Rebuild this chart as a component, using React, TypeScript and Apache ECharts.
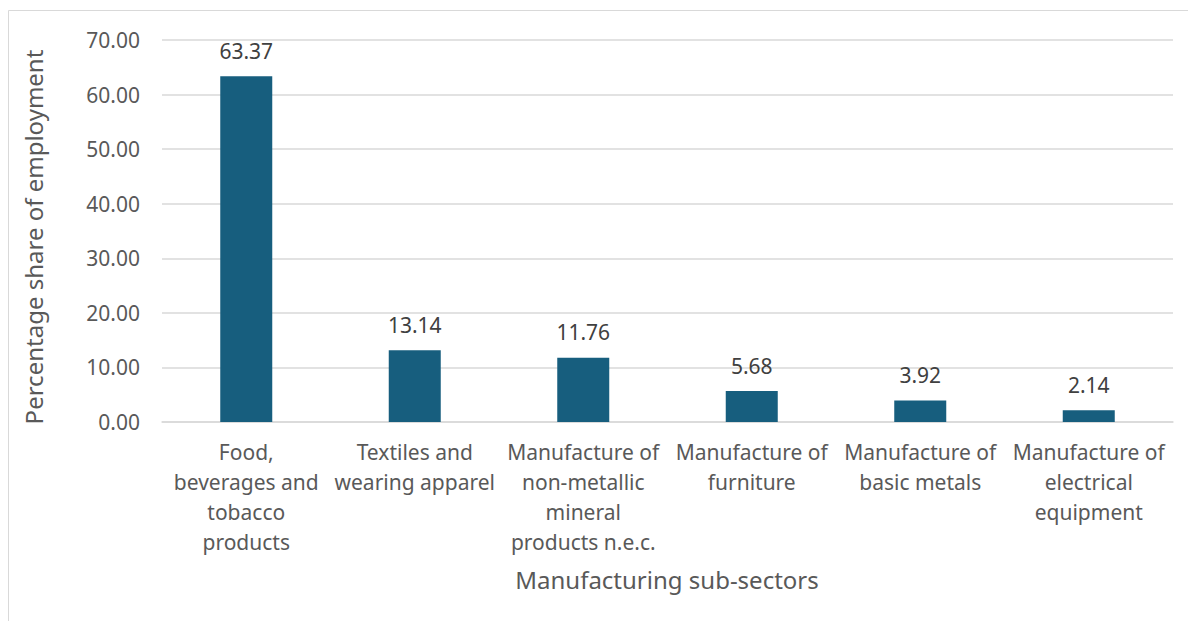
import React, { useEffect, useRef } from "react";
import * as echarts from "echarts";

const categories = [
  "Food,\nbeverages and\ntobacco\nproducts",
  "Textiles and\nwearing apparel",
  "Manufacture of\nnon-metallic\nmineral\nproducts n.e.c.",
  "Manufacture of\nfurniture",
  "Manufacture of\nbasic metals",
  "Manufacture of\nelectrical\nequipment",
];
const values = [63.37, 13.14, 11.76, 5.68, 3.92, 2.14];
const yAxisTitle = "Percentage share of employment";
const xAxisTitle = "Manufacturing sub-sectors";

const FONT = "'Noto Sans', 'Open Sans', sans-serif";
const TEXT = "#595959";

export default function App() {
  const ref = useRef<HTMLDivElement>(null);
  useEffect(() => {
    if (!ref.current) return;
    const chart = echarts.init(ref.current, undefined, { renderer: "svg" });
    chart.setOption({
      animation: false,
      backgroundColor: "#ffffff",
      textStyle: { fontFamily: FONT },
      graphic: [
        {
          type: "rect",
          shape: { x: 8.5, y: 10.5, width: 1300, height: 800 },
          style: { fill: "none", stroke: "#d9d9d9", lineWidth: 1 },
          silent: true,
          z: -1,
        },
        {
          type: "text",
          x: 667,
          y: 579,
          style: {
            text: xAxisTitle,
            fill: TEXT,
            font: `24px ${FONT}`,
            textAlign: "center",
            textVerticalAlign: "middle",
          },
        },
        {
          type: "text",
          x: 33,
          y: 237,
          rotation: Math.PI / 2,
          style: {
            text: yAxisTitle,
            fill: TEXT,
            font: `24px ${FONT}`,
            textAlign: "center",
            textVerticalAlign: "middle",
          },
        },
      ],
      grid: { left: 162, right: 15, top: 40, bottom: 199, containLabel: false },
      xAxis: {
        type: "category",
        data: categories,
        axisLine: { lineStyle: { color: "#d9d9d9", width: 1.5 } },
        axisTick: { show: false },
        axisLabel: {
          color: TEXT,
          fontSize: 21,
          lineHeight: 30,
          margin: 15,
          interval: 0,
          fontFamily: FONT,
        },
      },
      yAxis: {
        type: "value",
        min: 0,
        max: 70,
        interval: 10,
        axisLine: { show: false },
        axisTick: { show: false },
        splitLine: { lineStyle: { color: "#d9d9d9", width: 1.5 } },
        axisLabel: {
          color: TEXT,
          fontSize: 21,
          margin: 22,
          fontFamily: FONT,
          formatter: (v: number) => v.toFixed(2),
        },
      },
      series: [
        {
          type: "bar",
          data: values,
          barWidth: 52,
          itemStyle: { color: "#175E7E" },
          label: {
            show: true,
            position: "top",
            distance: 15,
            color: "#404040",
            fontSize: 21,
            fontFamily: FONT,
            formatter: (p: any) => p.value.toFixed(2),
          },
        },
      ],
    });
    return () => chart.dispose();
  }, []);
  return (
    <div
      ref={ref}
      style={{ position: "absolute", left: 0, top: 0, width: 1188, height: 621 }}
    />
  );
}
